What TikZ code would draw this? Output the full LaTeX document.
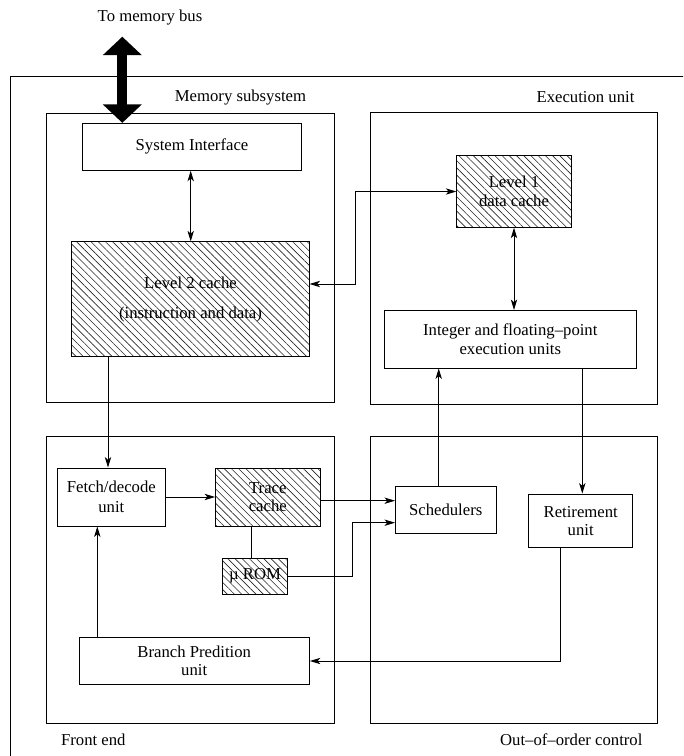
\documentclass[tikz,border=0pt]{standalone}
\usepackage{fontspec}
\setmainfont{Liberation Serif}
\usetikzlibrary{arrows.meta,patterns.meta}

\begin{document}
\begin{tikzpicture}[
                    x=0.02cm,
                    y=-0.02cm,
                    >={Stealth[length=6pt,width=3.6pt,inset=1.6pt]},
                    line width=0.5pt,
                    font=\fontsize{9.5}{10.5}\selectfont
                ]
                \tikzstyle{unit}=[draw=black,fill=white,align=center,inner sep=0pt]
                \tikzstyle{cache}=[unit,pattern={Lines[angle=-45,distance=2.9pt,line width=0.35pt]},pattern color=black!85]
                \tikzstyle{caption}=[inner sep=0pt]

                \useasboundingbox (0,0) rectangle (683,756);
                \begin{scope}
                    \clip (0,0) rectangle (683,756);
                    \draw (10.7,76) rectangle (720,800);
                \end{scope}

                % the four parts of the chip
                \draw (46.7,113.3) rectangle (334.4,402);
                \draw (370.6,112.7) rectangle (657.8,404);
                \draw (46.7,436) rectangle (334.4,723.4);
                \draw (370.6,436.2) rectangle (657.8,723.6);

                \node[caption] (busl) at (150,18) {To memory bus};
                \node[caption] (meml) at (240.5,98) {Memory subsystem};
                \node[caption] (exel) at (585.5,97) {Execution unit};
                \node[caption] (frontl) at (93.3,740) {Front end};
                \node[caption] (oool) at (571.3,740) {Out–of–order control};

                \node[unit, minimum width=4.38cm, minimum height=0.94cm] (sysif) at (192,146.8) {System Interface};
                \node[cache, minimum width=4.75cm, minimum height=2.3cm] (ltwo) at (190.5,299.2) {Level 2 cache\\[6.5pt](instruction and data)};
                \node[cache, minimum width=2.29cm, minimum height=1.43cm] (lone) at (514,191.5) {Level 1\\data cache};
                \node[unit, minimum width=5.04cm, minimum height=1.15cm] (exu) at (510.3,339.2) {Integer and floating–point\\execution units};
                \node[unit, minimum width=2.16cm, minimum height=1.16cm] (fetch) at (111.3,497) {Fetch/decode\\[1.2pt]unit};
                \node[cache, minimum width=2.09cm, minimum height=1.16cm] (trace) at (267.8,497) {Trace\\cache};
                \node[cache, minimum width=1.29cm, minimum height=0.72cm] (urom) at (255,576) {µ ROM};
                \node[unit, minimum width=2.01cm, minimum height=0.93cm] (sched) at (445.7,510) {Schedulers};
                \node[unit, minimum width=2.08cm, minimum height=1.07cm] (retire) at (580.7,520.8) {Retirement\\unit};
                \node[unit, minimum width=4.61cm, minimum height=0.93cm] (branch) at (194.2,661) {Branch Predition\\unit};

                \coordinate (bus) at (122.3,36.7);
                \draw[line width=5.6pt,{Triangle[width=21.6pt,length=10.5pt]}-{Triangle[width=21.6pt,length=10.5pt]}] (bus) -- (bus |- sysif.north);

                \draw[<->] (sysif.south -| 190.7,0) -- (ltwo.north -| 190.7,0);
                \draw[<->] (lone.west) -| (355.7,284) -- (ltwo.east |- 0,284);
                \draw[<->] (lone.south) -- (lone.south |- exu.north);
                \draw[->] (ltwo.south -| 108,0) -- (fetch.north -| 108,0);
                \draw[->] (fetch) -- (trace);
                \draw[->] (trace.east |- 0,500.7) -- (sched.west |- 0,500.7);
                \draw (urom.north -| 251.7,0) -- (trace.south -| 251.7,0);
                \draw[->] (urom.east) -| (352,522.7) -- (sched.west |- 0,522.7);
                \draw[->] (sched.north -| 438.7,0) -- (exu.south -| 438.7,0);
                \draw[->] (exu.south -| 582.3,0) -- (retire.north -| 582.3,0);
                \draw[->] (retire.south -| 560.7,0) |- (branch.east);
                \draw[->] (branch.north -| 97.3,0) -- (fetch.south -| 97.3,0);

            \end{tikzpicture}
\end{document}
